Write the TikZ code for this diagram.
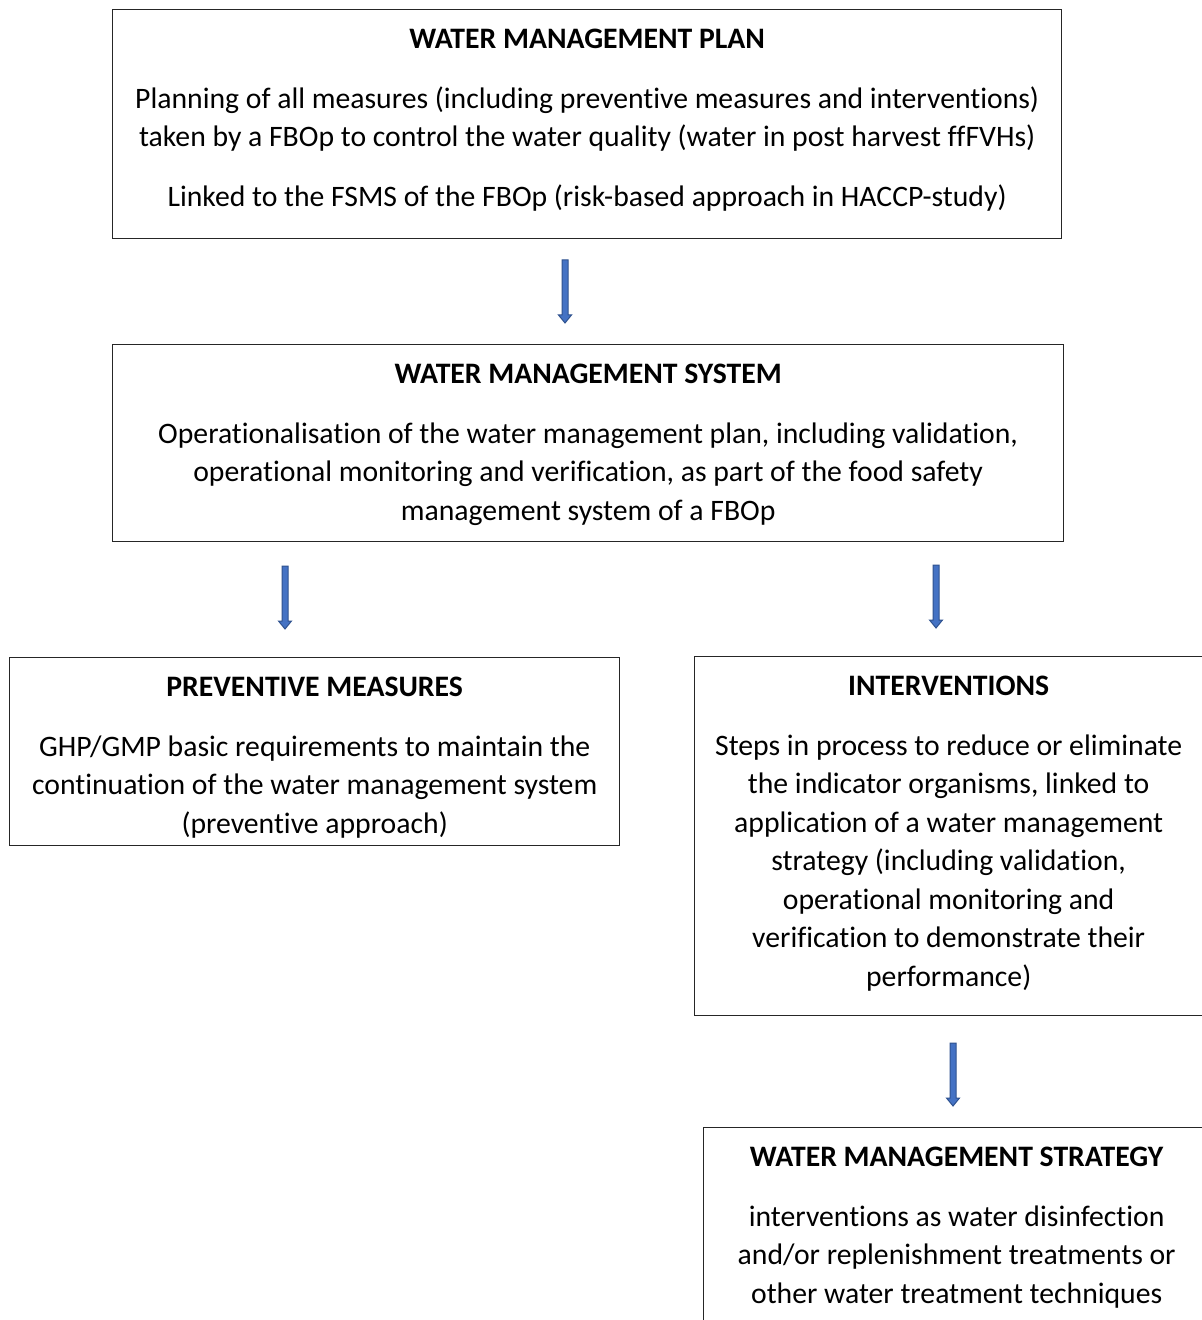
\documentclass[tikz,border=0pt]{standalone}
\usepackage{fontspec}
\setmainfont{Carlito}[Ligatures={NoCommon}]
\usetikzlibrary{calc}
\definecolor{arrfill}{HTML}{4472C4}
\definecolor{arrdraw}{HTML}{2F528F}
\newcommand\blockarrow[2]{%
  \filldraw[arrowshape] ($(#1)+(-3,0)$) -- ($(#2)+(-3,-8)$) -- ($(#2)+(-6.5,-8)$) -- (#2) -- ($(#2)+(6.5,-8)$) -- ($(#2)+(3,-8)$) -- ($(#1)+(3,0)$) -- cycle;}
\begin{document}
\begin{tikzpicture}[x=0.5pt,y=-0.5pt,
  box/.style={draw=black!85, line width=0.65pt, anchor=north west, inner sep=0pt},
  txt/.style={anchor=north, align=center, inner sep=0pt,
     font=\fontsize{14.85}{19.25}\selectfont},
  arrowshape/.style={fill=arrfill, draw=arrdraw, line width=0.5pt, line join=miter}]
\useasboundingbox (0,0) rectangle (1202,1320);
\clip (0,0) rectangle (1202,1320);
\fill[white] (0,0) rectangle (1202,1320);

\node[box, minimum width=949*0.5pt, minimum height=229*0.5pt] (plan) at (112,9) {};
\node[txt] (plantxt) at ($(plan.north)+(0,19.5)$)
  {\textbf{WATER MANAGEMENT PLAN}\\[10.75pt]
   Planning of all measures (including preventive measures and interventions)\\
   taken by a FBOp to control the water quality (water in post harvest ffFVHs)\\[10.75pt]
   Linked to the FSMS of the FBOp (risk-based approach in HACCP-study)};

\node[box, minimum width=951*0.5pt, minimum height=197*0.5pt] (system) at (112,344) {};
\node[txt] (systemtxt) at ($(system.north)+(0,19.5)$)
  {\textbf{WATER MANAGEMENT SYSTEM}\\[10.75pt]
   Operationalisation of the water management plan, including validation,\\
   operational monitoring and verification, as part of the food safety\\
   management system of a FBOp};

\node[box, minimum width=610*0.5pt, minimum height=188*0.5pt] (prev) at (9,657) {};
\node[txt] (prevtxt) at ($(prev.north)+(0,19.5)$)
  {\textbf{PREVENTIVE MEASURES}\\[10.75pt]
   GHP/GMP basic requirements to maintain the\\
   continuation of the water management system\\
   (preventive approach)};

\node[box, minimum width=508*0.5pt, minimum height=359*0.5pt] (interv) at (694,656) {};
\node[txt] (intervtxt) at ($(interv.north)+(0,19.5)$)
  {\textbf{INTERVENTIONS}\\[10.75pt]
   Steps in process to reduce or eliminate\\
   the indicator organisms, linked to\\
   application of a water management\\
   strategy (including validation,\\
   operational monitoring and\\
   verification to demonstrate their\\
   performance)};

\node[box, minimum width=506*0.5pt, minimum height=200*0.5pt] (strat) at (703,1127) {};
\node[txt] (strattxt) at ($(strat.north)+(0,19.5)$)
  {\textbf{WATER MANAGEMENT STRATEGY}\\[10.75pt]
   interventions as water disinfection\\
   and/or replenishment treatments or\\
   other water treatment techniques};

\coordinate (a1s) at (565,260); \coordinate (a1e) at (565,323);
\coordinate (a2s) at (285,566); \coordinate (a2e) at (285,629);
\coordinate (a3s) at (936,565); \coordinate (a3e) at (936,628);
\coordinate (a4s) at (953,1043); \coordinate (a4e) at (953,1106);
\blockarrow{a1s}{a1e}
\blockarrow{a2s}{a2e}
\blockarrow{a3s}{a3e}
\blockarrow{a4s}{a4e}
\end{tikzpicture}
\end{document}
